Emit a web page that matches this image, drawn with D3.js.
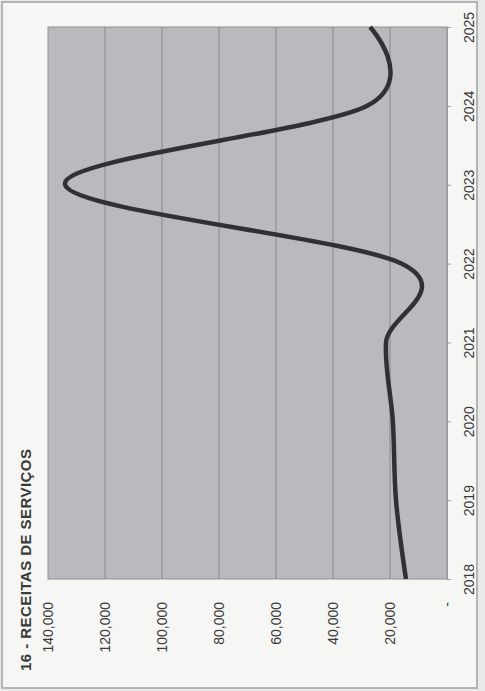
<!DOCTYPE html>
<html>
<head>
<meta charset="utf-8">
<script src="https://cdn.jsdelivr.net/npm/d3@7"></script>
<style>
  html, body { margin: 0; padding: 0; background: #e9e9e7; }
  svg { display: block; }
  text { font-family: "Liberation Sans Narrow", "Arial Narrow", "Liberation Sans", Arial, sans-serif; fill: #3a3a3a; }
</style>
</head>
<body>
<svg id="chart" width="485" height="691"></svg>
<script>
const title = "16 - RECEITAS DE SERVIÇOS";
const years = [2018, 2019, 2020, 2021, 2022, 2023, 2024, 2025];
const values = [14400, 17900, 19000, 21400, 16000, 134000, 28000, 27000];
const valueTicks = [0, 20000, 40000, 60000, 80000, 100000, 120000, 140000];

const svg = d3.select("#chart");

// page
svg.append("rect").attr("x", 2).attr("y", 2).attr("width", 475).attr("height", 686)
  .attr("fill", "#f6f6f4").attr("stroke", "#b4b4b4").attr("stroke-width", 2);

const plot = { left: 48, right: 447, top: 27, bottom: 579 };

// value axis is horizontal (chart rotated), reversed
const xV = d3.scaleLinear().domain([0, 140000]).range([plot.right, plot.left]);
const yY = d3.scaleLinear().domain([2018, 2025]).range([plot.bottom, plot.top]);

svg.append("rect")
  .attr("x", plot.left).attr("y", plot.top)
  .attr("width", plot.right - plot.left).attr("height", plot.bottom - plot.top)
  .attr("fill", "#b9babd").attr("stroke", "#8e9093").attr("stroke-width", 1);

// gridlines
svg.append("g").selectAll("line")
  .data(valueTicks.filter(v => v > 0 && v < 140000))
  .join("line")
  .attr("x1", d => xV(d)).attr("x2", d => xV(d))
  .attr("y1", plot.top).attr("y2", plot.bottom)
  .attr("stroke", "#86888b").attr("stroke-width", 1);

// value axis (below plot, rotated labels)
const vAxis = svg.append("g")
  .attr("transform", `translate(0,${plot.bottom})`)
  .call(d3.axisBottom(xV).tickValues(valueTicks).tickSize(0)
    .tickFormat(d => d === 0 ? "-" : d3.format(",")(d)));
vAxis.select(".domain").remove();
vAxis.selectAll("text")
  .attr("transform", "translate(0,23) rotate(-90)")
  .attr("x", 0).attr("y", 0).attr("dy", "0.35em")
  .attr("text-anchor", "end")
  .style("font-size", "14px")
  .style("font-family", "'Liberation Sans Narrow', 'Arial Narrow', 'Liberation Sans', Arial, sans-serif")
  .attr("fill", "#3d3d3d");

// year axis (right of plot)
const yAxis = svg.append("g")
  .attr("transform", `translate(${plot.right},0)`)
  .call(d3.axisRight(yY).tickValues(years).tickSize(4).tickFormat(d3.format("d")));
yAxis.select(".domain").attr("stroke", "#9a9a9a");
yAxis.selectAll(".tick line").attr("stroke", "#9a9a9a");
yAxis.selectAll("text")
  .attr("transform", "translate(22,0) rotate(-90)")
  .attr("x", 0).attr("y", 0).attr("dy", "0.35em")
  .attr("text-anchor", "middle")
  .style("font-size", "14px")
  .style("font-family", "'Liberation Sans Narrow', 'Arial Narrow', 'Liberation Sans', Arial, sans-serif")
  .attr("fill", "#3d3d3d");

// line
const data = years.map((y, i) => ({ year: y, value: values[i] }));
const line = d3.line()
  .x(d => xV(d.value))
  .y(d => yY(d.year))
  .curve(d3.curveCardinal.tension(0));
svg.append("path").datum(data)
  .attr("d", line)
  .attr("fill", "none")
  .attr("stroke", "#2f3136")
  .attr("stroke-width", 4.5)
  .attr("stroke-linejoin", "round");

// title
svg.append("text")
  .attr("transform", "translate(26,671) rotate(-90)")
  .attr("dy", "0.35em")
  .attr("text-anchor", "start")
  .attr("textLength", 222)
  .style("font-family", "'Liberation Sans', Arial, sans-serif")
  .style("font-weight", "bold")
  .style("font-size", "15px")
  .attr("fill", "#333")
  .text(title);
</script>
</body>
</html>
